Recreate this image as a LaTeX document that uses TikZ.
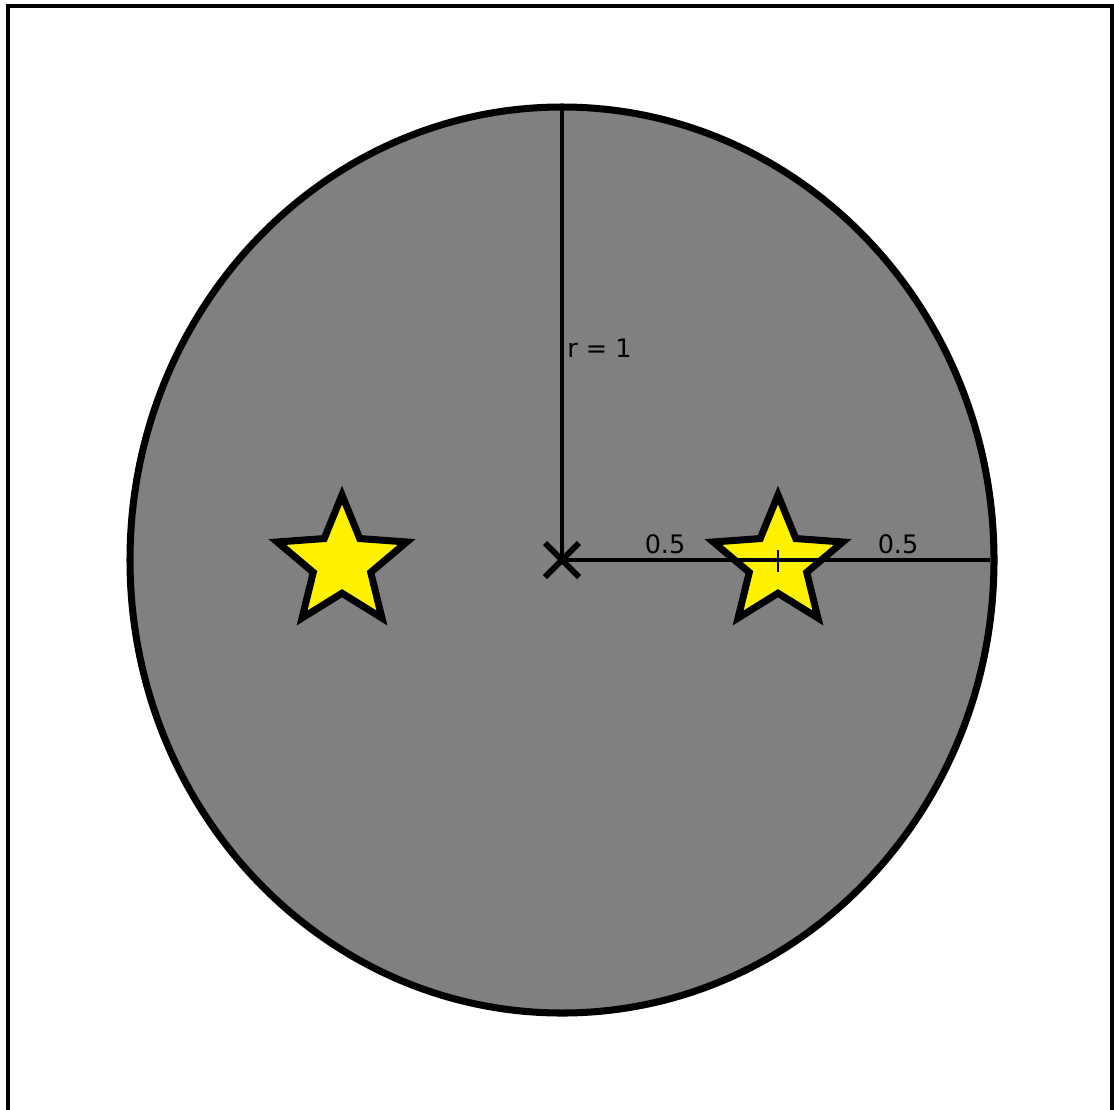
\documentclass[tikz,border=0pt]{standalone}
\usepackage{fontspec}
\setmainfont{DejaVu Sans}
\usepackage{tikz}
\usetikzlibrary{shapes.geometric}

\begin{document}
\begin{tikzpicture}[x=0.02cm,y=-0.02cm,
 every node/.style={font=\fontsize{14.5}{17}\selectfont,inner sep=0pt},
 marker/.style={star,star points=5,star point ratio=2.25,draw,fill=yellow,line width=4pt,miter limit=10,minimum size=2.72cm,inner sep=0pt},
 radius line/.style={line width=2.3pt}]
\useasboundingbox (0,0) rectangle (1114,1109);
\draw[line width=1.8pt] (8,6) rectangle (1112,1130);
\draw[line width=4pt,fill=black!50] (562,560) ellipse [x radius=432,y radius=-453];
\coordinate (centre) at (562,560);
\coordinate (top) at (562,107);
\coordinate (edge) at (990,560);
\node[marker] (star1) at (342,563) {};
\node[marker] (star2) at (778,563) {};
\draw[radius line] (centre) -- (top);
\draw[radius line] (centre) -- (edge);
\draw[line width=0.8pt] ([shift={(0,-13)}]star2.center) -- ([shift={(0,9)}]star2.center);
\draw[line width=3.3pt] ([shift={(-17,-17)}]centre) -- ([shift={(17,17)}]centre);
\draw[line width=3.3pt] ([shift={(-17,17)}]centre) -- ([shift={(17,-17)}]centre);
\node[anchor=west] (rlabel) at (567,348) {r = 1};
\node (half1) at (665,544) {0.5};
\node (half2) at (898,544) {0.5};
\end{tikzpicture}
\end{document}
